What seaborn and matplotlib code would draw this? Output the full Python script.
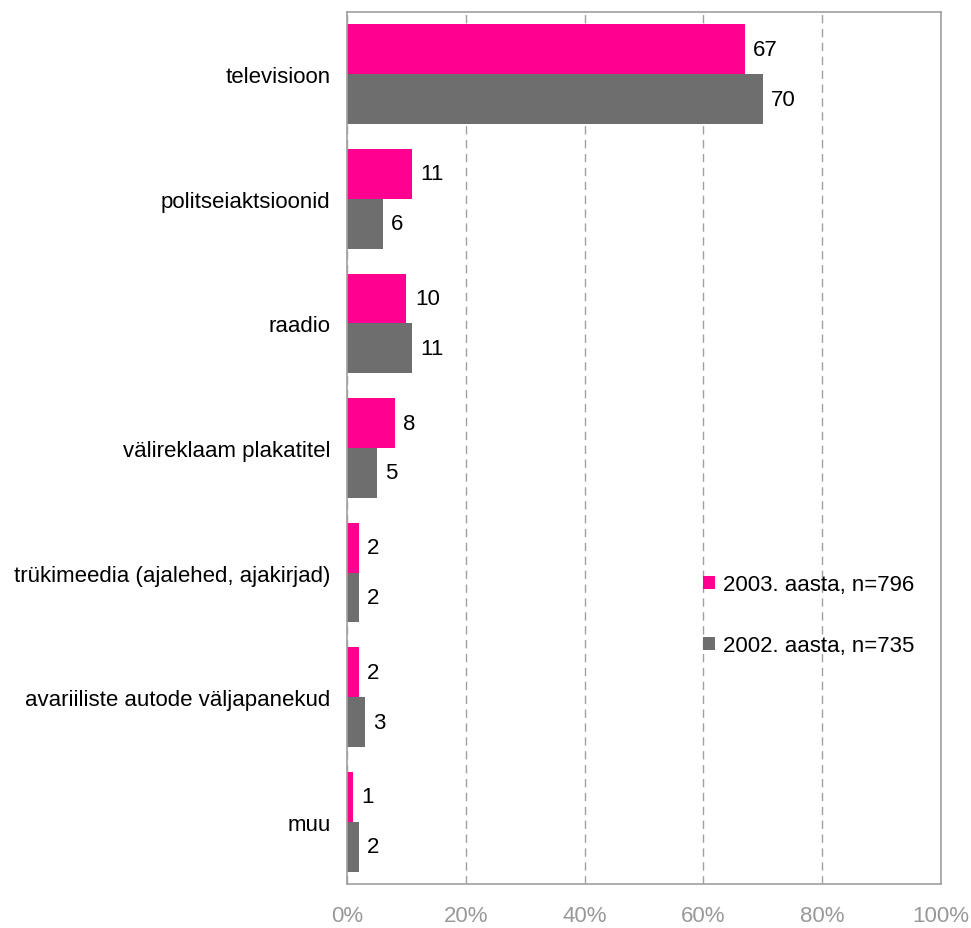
import pandas as pd
import seaborn as sns
import matplotlib.pyplot as plt
from matplotlib.ticker import PercentFormatter

categories = ["televisioon", "politseiaktsioonid", "raadio", "välireklaam plakatitel",
              "trükimeedia (ajalehed, ajakirjad)", "avariiliste autode väljapanekud", "muu"]
series = ["2003. aasta, n=796", "2002. aasta, n=735"]
values_2003 = [67, 11, 10, 8, 2, 2, 1]
values_2002 = [70, 6, 11, 5, 2, 3, 2]
colors = ["#FF0090", "#6E6E6E"]

df = pd.DataFrame({
    "kanal": categories * 2,
    "aasta": [series[0]] * len(categories) + [series[1]] * len(categories),
    "protsent": values_2003 + values_2002,
})

sns.set_style("white")
plt.rcParams["font.family"] = ["Liberation Sans", "DejaVu Sans"]
plt.rcParams["text.color"] = "black"

fig = plt.figure(figsize=(9.71, 9.29), dpi=100)
ax = fig.add_axes([0.3574, 0.0474, 0.6117, 0.9386])

sns.barplot(data=df, y="kanal", x="protsent", hue="aasta", orient="h",
            palette=colors, width=0.8, saturation=1, linewidth=0, ax=ax)

for c in ax.containers:
    ax.bar_label(c, padding=6, fontsize=16, color="black")

ax.set_xlim(0, 100)
ax.xaxis.set_major_formatter(PercentFormatter(decimals=0))
ax.set_xticks(range(0, 101, 20))
ax.set_xlabel("")
ax.set_ylabel("")
ax.grid(axis="x", color="#A0A0A0", linestyle=(0, (6, 4)), linewidth=1)
ax.grid(axis="y", visible=False)
ax.set_axisbelow(True)
for s in ax.spines.values():
    s.set_color("#A0A0A0")
    s.set_linewidth(1.2)
ax.tick_params(axis="x", length=0, pad=15, labelsize=16, labelcolor="#999999")
ax.tick_params(axis="y", length=0, pad=12, labelsize=16, labelcolor="black")

leg = ax.legend(loc="upper left", bbox_to_anchor=(0.565, 0.378), frameon=False, fontsize=16,
                handlelength=0.55, handleheight=0.55, handletextpad=0.35, labelspacing=1.8)
for t in leg.get_texts():
    t.set_color("black")

fig.savefig("out.png", dpi=100)
